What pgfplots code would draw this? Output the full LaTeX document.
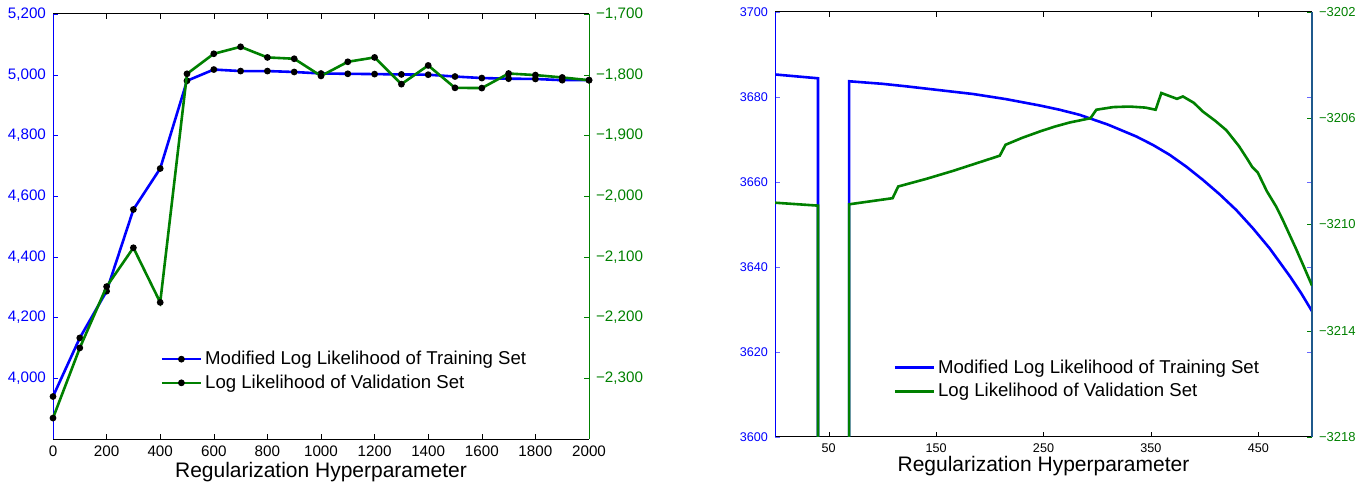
\documentclass[border=0pt]{standalone}
\usepackage{pgfplots}
\pgfplotsset{compat=1.18}
\usepackage{fontspec}
\setmainfont{Liberation Sans}
\definecolor{mblue}{rgb}{0,0,1}
\definecolor{mgreen}{rgb}{0,0.5,0}
\definecolor{mteal}{rgb}{0.12,0.35,0.55}
\pgfplotsset{
  common/.style={
    scale only axis, anchor=south west,
    tick align=inside, major tick length=2.5pt,
    /pgf/number format/assume math mode=true,
    every axis plot/.append style={line width=1.3pt},
    axis line style={line width=0.5pt},
  },
}
\begin{document}
\begin{tikzpicture}
\useasboundingbox (0,0) rectangle (685pt,243.5pt);
% ---------------- left chart ----------------
\begin{axis}[common,
  at={(26.5pt,24pt)}, width=268pt, height=212.5pt,
  xmin=0, xmax=2000, ymin=3800, ymax=5200,
  separate axis lines,
  x axis line style={black}, y axis line style={mblue},
  xtick={0,200,...,2000},
  xticklabels={0,200,400,600,800,1000,1200,1400,1600,1800,2000},
  xtick pos=both, x tick style={black},
  ytick={4000,4200,...,5200},
  yticklabels={{4,000},{4,200},{4,400},{4,600},{4,800},{5,000},{5,200}},
  ytick pos=both, yticklabel pos=left,
  y tick style={mblue},
  xticklabel style={font=\fontsize{7.6}{9}\selectfont, text=black},
  yticklabel style={font=\fontsize{7.6}{9}\selectfont, text=mblue},
  xlabel={Regularization Hyperparameter},
  xlabel style={font=\fontsize{10.5}{12}\selectfont, yshift=4pt},
  clip=false,
]
\addplot[mblue, mark=*, mark size=1pt, mark options={fill=black, draw=black}] coordinates {
(0,3940) (100,4133) (200,4287) (300,4556) (400,4691) (500,4980) (600,5017)
(700,5012) (800,5012) (900,5009) (1000,5004) (1100,5003) (1200,5002)
(1300,5001) (1400,5000) (1500,4994) (1600,4989) (1700,4987) (1800,4986)
(1900,4982) (2000,4982)};
\end{axis}
\begin{axis}[common,
  at={(26.5pt,24pt)}, width=268pt, height=212.5pt,
  xmin=0, xmax=2000, ymin=-2400, ymax=-1700,
  axis x line=none, axis y line*=right,
  y axis line style={mgreen, -},
  ytick={-2300,-2200,...,-1700},
  yticklabels={{−2,300},{−2,200},{−2,100},{−2,000},{−1,900},{−1,800},{−1,700}},
  y tick style={mgreen},
  yticklabel style={font=\fontsize{7.6}{9}\selectfont, text=mgreen},
  clip=false,
  legend style={draw=none, fill=none, at={(rel axis cs:0.2,0.16)}, anchor=west,
    font=\fontsize{9.3}{11}\selectfont, row sep=0.6pt, inner sep=0pt,
    nodes={inner sep=1.5pt}},
  legend cell align=left,
  legend image code/.code={\draw[mark repeat=2,mark phase=2,#1] plot coordinates {(0pt,0pt) (9.75pt,0pt) (19.5pt,0pt)};},
]
\addlegendimage{mblue, line width=1.3pt, mark=*, mark size=1pt, mark options={fill=black, draw=black}}
\addlegendentry{Modified Log Likelihood of Training Set}
\addplot[mgreen, mark=*, mark size=1pt, mark options={fill=black, draw=black}] coordinates {
(0,-2365.5) (100,-2250) (200,-2149) (300,-2085) (400,-2175) (500,-1798.5)
(600,-1765.5) (700,-1754) (800,-1771.5) (900,-1773.7) (1000,-1802)
(1100,-1778.7) (1200,-1771.5) (1300,-1815.5) (1400,-1784.7) (1500,-1821.6)
(1600,-1822) (1700,-1798) (1800,-1800.6) (1900,-1804.5) (2000,-1809)};
\addlegendentry{Log Likelihood of Validation Set}
\end{axis}
% ---------------- right chart ----------------
\begin{axis}[common,
  at={(387.5pt,25pt)}, width=268.5pt, height=212.5pt,
  xmin=0, xmax=500, ymin=3600, ymax=3700,
  separate axis lines,
  x axis line style={black}, y axis line style={mblue},
  xtick={50,150,...,450},
  xticklabels={50,150,250,350,450},
  xtick pos=both, x tick style={black},
  ytick={3600,3620,...,3700},
  yticklabels={3600,3620,3640,3660,3680,3700},
  ytick pos=both, yticklabel pos=left,
  y tick style={mblue!60},
  xticklabel style={font=\fontsize{6.3}{7.5}\selectfont, text=black},
  yticklabel style={font=\fontsize{6.3}{7.5}\selectfont, text=mblue},
  xlabel={Regularization Hyperparameter},
  xlabel style={font=\fontsize{10.5}{12}\selectfont, yshift=5pt},
]
\addplot[mblue] coordinates {
(0,3685.3) (40,3684.4) (40,3500) (69,3500) (69,3683.7) (100,3683.1) (122.5,3682.5)
(150,3681.7) (184.5,3680.7) (215,3679.5) (246.5,3678.0) (265,3677.0)
(283.7,3675.8) (310,3673.5) (336.5,3670.7) (352,3668.7) (367.4,3666.4)
(383,3663.6) (398.4,3660.5) (414,3657.1) (429.5,3653.4) (445,3649.1)
(460.5,3644.4) (470,3641.1) (480,3637.6) (490,3633.8) (500,3629.6)};
\end{axis}
\begin{axis}[common,
  at={(387.5pt,25pt)}, width=268.5pt, height=212.5pt,
  xmin=0, xmax=500, ymin=-3218, ymax=-3202,
  axis x line=none, axis y line*=right,
  y axis line style={mteal, line width=0.8pt, -},
  ytick={-3218,-3214,...,-3202},
  yticklabels={{−3218},{−3214},{−3210},{−3206},{−3202}},
  y tick style={mgreen},
  yticklabel style={font=\fontsize{6.5}{7.5}\selectfont, text=mgreen},
  legend style={draw=none, fill=none, at={(rel axis cs:0.22,0.135)}, anchor=west,
    font=\fontsize{9.3}{11}\selectfont, row sep=0.6pt, inner sep=0pt,
    nodes={inner sep=1.5pt}},
  legend cell align=left,
  legend image code/.code={\draw[#1] (0pt,0pt) -- (19.5pt,0pt);},
]
\addlegendimage{mblue, line width=1.3pt}
\addlegendentry{Modified Log Likelihood of Training Set}
\addplot[mgreen] coordinates {
(0,-3209.18) (40,-3209.29) (40,-3230) (69,-3230) (69,-3209.24) (109.5,-3209.01)
(114.7,-3208.57) (141.1,-3208.28) (165.9,-3207.98) (209.3,-3207.41)
(214.6,-3207.00) (230,-3206.74) (246.5,-3206.50) (260,-3206.32) (274.4,-3206.16)
(293.7,-3206.0) (299.2,-3205.68) (315,-3205.58) (330.2,-3205.56) (345,-3205.6)
(354.4,-3205.68) (359.7,-3205.05) (374.3,-3205.27) (379.8,-3205.18)
(390,-3205.42) (398.4,-3205.75) (410,-3206.1) (420.2,-3206.45) (432,-3207.05)
(440,-3207.55) (444.4,-3207.84) (449.6,-3208.05) (458,-3208.75) (466.7,-3209.33)
(472.8,-3209.83) (485.3,-3210.93) (492,-3211.55) (500,-3212.3)};
\addlegendentry{Log Likelihood of Validation Set}
\end{axis}
\end{tikzpicture}
\end{document}
